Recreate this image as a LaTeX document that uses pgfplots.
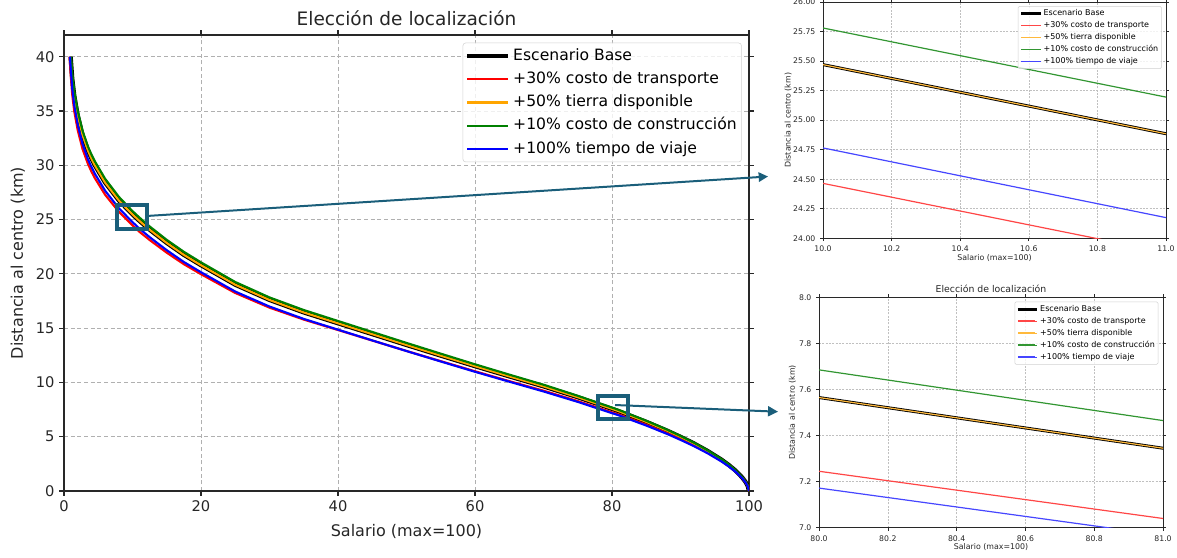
\documentclass[border=0pt]{standalone}
\usepackage{fontspec}
\setmainfont{DejaVu Sans}
\usepackage{pgfplots}
\usepackage{pgfplotstable}
\pgfplotsset{compat=1.18}
\usetikzlibrary{arrows.meta}

\definecolor{mplred}{rgb}{1,0,0}
\definecolor{mplorange}{rgb}{1,0.647,0}
\definecolor{mplgreen}{rgb}{0,0.5,0}
\definecolor{mplblue}{rgb}{0,0,1}
\definecolor{lightred}{RGB}{255,70,70}
\definecolor{lightorange}{RGB}{255,185,60}
\definecolor{lightgreen}{RGB}{50,150,50}
\definecolor{lightblue}{RGB}{70,70,255}
\definecolor{gridgray}{RGB}{176,176,176}
\definecolor{spine}{RGB}{40,40,40}
\definecolor{zoomblue}{RGB}{26,94,122}

% Distancia al centro (km) frente al salario, por escenario
\pgfplotstableread{
x y
0.97 40.0
1.2 38.0
1.5 36.4
2.0 34.6
2.7 32.8
3.5 31.35
4.0 30.63
4.5 30.0
6.0 28.41
8.0 26.77
10 25.47
11 24.885
12.5 24.07
15 22.85
17.5 21.75
20 20.8
25 19.0
30 17.6
35 16.45
40 15.45
45 14.45
50 13.45
55 12.47
60 11.5
65 10.56
70 9.64
75 8.64
80 7.565
81 7.345
85 6.37
88 5.57
90 4.99
92 4.37
94 3.67
96 2.88
97 2.42
98 1.90
99 1.25
99.5 0.83
99.8 0.48
100 0
}\tblbase

\pgfplotstableread{
x y
0.81 40.0
0.97 38.43
1.2 36.51
1.5 34.97
2.0 33.24
2.7 31.51
3.5 30.12
4.0 29.43
4.5 28.82
6.0 27.29
8.0 25.72
10 24.465
11 23.88
12.5 23.12
15 21.95
17.5 20.89
20 19.97
25 18.24
30 16.89
35 15.79
40 14.83
45 13.86
50 12.90
55 11.96
60 11.03
65 10.12
70 9.24
75 8.28
80 7.245
81 7.04
85 6.10
88 5.33
90 4.78
92 4.18
94 3.51
96 2.76
97 2.32
98 1.82
99 1.20
99.5 0.79
99.8 0.46
100 0
}\tbltransporte

\pgfplotstableread{
x y
1.03 40.0
1.2 38.46
1.5 36.84
2.0 35.02
2.7 33.20
3.5 31.73
4.0 31.00
4.5 30.37
6.0 28.76
8.0 27.10
10 25.78
11 25.195
12.5 24.37
15 23.13
17.5 22.03
20 21.06
25 19.25
30 17.83
35 16.67
40 15.66
45 14.65
50 13.64
55 12.65
60 11.67
65 10.72
70 9.79
75 8.77
80 7.685
81 7.465
85 6.47
88 5.66
90 5.07
92 4.44
94 3.73
96 2.93
97 2.46
98 1.93
99 1.27
99.5 0.84
99.8 0.49
100 0
}\tblconstruccion

\pgfplotstableread{
x y
0.87 40.0
0.97 39.02
1.2 37.07
1.5 35.50
2.0 33.74
2.7 31.97
3.5 30.55
4.0 29.85
4.5 29.23
6.0 27.66
8.0 26.05
10 24.765
11 24.175
12.5 23.38
15 22.18
17.5 21.09
20 20.15
25 18.37
30 16.99
35 15.85
40 14.86
45 13.87
50 12.89
55 11.93
60 10.98
65 10.07
70 9.17
75 8.21
80 7.172
81 6.967
85 6.03
88 5.27
90 4.71
92 4.12
94 3.46
96 2.71
97 2.28
98 1.79
99 1.18
99.5 0.78
99.8 0.45
100 0
}\tblviaje

% estilo comun de los tres ejes
\pgfplotsset{
  mplaxis/.style={
    scale only axis,
    tick align=outside,
    axis line style={spine, line width=0.8pt},
    tick style={spine, line width=0.8pt},
    grid=major,
    /pgf/number format/assume math mode=true,
    legend cell align=left,
  },
  % ejes de las ampliaciones
  zoomaxis/.style={
    mplaxis,
    axis line style={spine, line width=0.6pt},
    tick style={spine, line width=0.5pt},
    major tick length=2.2pt,
    grid style={gridgray!80, dash pattern=on 1.5pt off 1pt, line width=0.4pt},
    ticklabel style={font=\fontsize{5.8}{7}\selectfont, text=black!85},
    xlabel={Salario (max=100)}, ylabel={Distancia al centro (km)},
    label style={font=\fontsize{5.9}{7}\selectfont, text=black!85},
    legend style={draw=black!18, rounded corners=1pt, fill=white, fill opacity=0.8,
                  text opacity=1, font=\fontsize{6}{7}\selectfont,
                  nodes={inner sep=1.2pt, text height=4.6pt, text depth=1.4pt},
                  row sep=0.6pt, inner xsep=1.2pt, inner ysep=1.2pt},
    legend image code/.code={\draw[##1, line width=1.3pt] (0pt,0pt) -- (12.75pt,0pt);
                             \path (0pt,0pt) -- (14.5pt,0pt);},
  },
}

\begin{document}
\begin{tikzpicture}

% ---------------- grafico principal ----------------
\begin{axis}[
  mplaxis,
  at={(64*0.75pt,-491*0.75pt)}, anchor=south west,
  width=685*0.75pt, height=456*0.75pt,
  xmin=0, xmax=100, ymin=0, ymax=42,
  xtick={0,20,40,60,80,100}, ytick={0,5,10,15,20,25,30,35,40},
  major tick length=3.6pt,
  grid style={gridgray, dash pattern=on 3pt off 2pt, line width=0.7pt},
  ticklabel style={font=\fontsize{11}{13}\selectfont, text=black!85},
  xlabel={Salario (max=100)}, ylabel={Distancia al centro (km)},
  label style={font=\fontsize{12}{14}\selectfont, text=black!85},
  xlabel style={at={(axis description cs:0.5,-0.0893)}, anchor=center},
  ylabel style={at={(axis description cs:-0.0672,0.5)}, anchor=center},
  title={Elección de localización},
  every axis title/.style={at={(axis description cs:0.5,1.037)}, anchor=center,
               font=\fontsize{13.9}{16}\selectfont, text=black!85},
  legend style={at={(axis description cs:0.9893,0.9831)}, anchor=north east,
                draw=black!18, rounded corners=2pt, fill=white, fill opacity=0.8,
                text opacity=1, font=\fontsize{11.7}{14}\selectfont,
                nodes={inner sep=2pt, text height=9pt, text depth=2.6pt},
                row sep=1.8pt, inner xsep=1.5pt, inner ysep=2pt},
  legend image code/.code={\draw[#1] (0pt,0pt) -- (27pt,0pt);
                           \path (0pt,0pt) -- (31pt,0pt);},
]
\addplot[black, line width=3.2pt] table {\tblbase};
\addlegendentry{Escenario Base}
\addplot[mplred, line width=1.6pt] table {\tbltransporte};
\addlegendentry{+30\% costo de transporte}
\addplot[mplorange, line width=1.6pt] table {\tblbase};
\addlegendentry{+50\% tierra disponible}
\addplot[mplgreen, line width=1.6pt] table {\tblconstruccion};
\addlegendentry{+10\% costo de construcción}
\addplot[mplblue, line width=1.6pt] table {\tblviaje};
\addlegendentry{+100\% tiempo de viaje}

% zonas ampliadas
\draw[zoomblue, line width=3pt] (axis cs:7.69,24.13) rectangle (axis cs:12.07,26.34);
\draw[zoomblue, line width=3pt] (axis cs:78.0,6.63) rectangle (axis cs:82.38,8.75);
\coordinate (z1) at (axis cs:12.07,25.33);
\coordinate (z2) at (axis cs:80.44,7.92);
\end{axis}

% flechas hacia las ampliaciones
\draw[zoomblue, line width=1.5pt, -{Triangle[length=7pt,width=7pt]}]
  (z1) -- (768*0.75pt,-176.5*0.75pt);
\draw[zoomblue, line width=1.5pt, -{Triangle[length=7.5pt,width=7.5pt]}]
  (z2) -- (778*0.75pt,-411.7*0.75pt);

% ---------------- ampliacion: salario 80 a 81 ----------------
\begin{axis}[
  zoomaxis,
  at={(819*0.75pt,-527.7*0.75pt)}, anchor=south west,
  width=344*0.75pt, height=230.4*0.75pt,
  xmin=80, xmax=81, ymin=7, ymax=8,
  restrict x to domain=74:86,
  xtick={80,80.2,80.4,80.6,80.8,81},
  ytick={7,7.2,7.4,7.6,7.8,8},
  xticklabel style={/pgf/number format/.cd, fixed, fixed zerofill, precision=1},
  yticklabel style={/pgf/number format/.cd, fixed, fixed zerofill, precision=1},
  xlabel style={at={(axis description cs:0.5,-0.0824)}, anchor=center},
  ylabel style={at={(axis description cs:-0.0776,0.5)}, anchor=center},
  title={Elección de localización},
  every axis title/.style={at={(axis description cs:0.5,1.036)}, anchor=center,
               font=\fontsize{7}{8.5}\selectfont, text=black!85},
  legend style={at={(axis description cs:0.9863,0.981)}, anchor=north east},
]
\addplot[black, line width=2.2pt] table {\tblbase};
\addlegendentry{Escenario Base}
\addplot[lightred, line width=0.9pt] table {\tbltransporte};
\addlegendentry{+30\% costo de transporte}
\addplot[lightorange, line width=0.9pt] table {\tblbase};
\addlegendentry{+50\% tierra disponible}
\addplot[lightgreen, line width=0.9pt] table {\tblconstruccion};
\addlegendentry{+10\% costo de construcción}
\addplot[lightblue, line width=0.9pt] table {\tblviaje};
\addlegendentry{+100\% tiempo de viaje}
\end{axis}

% ---------------- ampliacion: salario 10 a 11 ----------------
\begin{axis}[
  zoomaxis,
  at={(823*0.75pt,-238.3*0.75pt)}, anchor=south west,
  width=343*0.75pt, height=236.3*0.75pt,
  xmin=10, xmax=11, ymin=24, ymax=26,
  restrict x to domain=7.5:13,
  xtick={10,10.2,10.4,10.6,10.8,11},
  ytick={24,24.25,24.5,24.75,25,25.25,25.5,25.75,26},
  xticklabel style={/pgf/number format/.cd, fixed, fixed zerofill, precision=1},
  yticklabel style={/pgf/number format/.cd, fixed, fixed zerofill, precision=2},
  xlabel style={at={(axis description cs:0.5,-0.0835)}, anchor=center},
  ylabel style={at={(axis description cs:-0.102,0.5)}, anchor=center},
  legend style={at={(axis description cs:0.9875,0.983)}, anchor=north east},
]
\addplot[black, line width=2.2pt] table {\tblbase};
\addlegendentry{Escenario Base}
\addplot[lightred, line width=0.9pt] table {\tbltransporte};
\addlegendentry{+30\% costo de transporte}
\addplot[lightorange, line width=0.9pt] table {\tblbase};
\addlegendentry{+50\% tierra disponible}
\addplot[lightgreen, line width=0.9pt] table {\tblconstruccion};
\addlegendentry{+10\% costo de construcción}
\addplot[lightblue, line width=0.9pt] table {\tblviaje};
\addlegendentry{+100\% tiempo de viaje}
\end{axis}

\pgfresetboundingbox
\path[use as bounding box] (0,0) rectangle (1177*0.75pt,-557*0.75pt);
\end{tikzpicture}
\end{document}
